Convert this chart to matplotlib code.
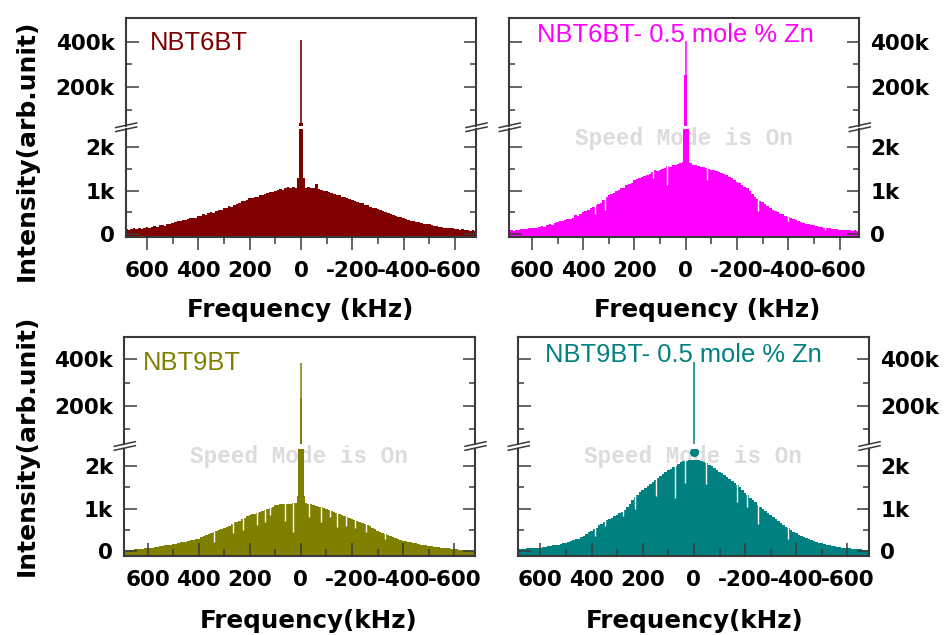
import numpy as np
import matplotlib
matplotlib.use("Agg")
import matplotlib.pyplot as plt
from matplotlib.lines import Line2D

# ---------------- data ----------------
freq_khz = np.arange(690, -691, -10)  # sampling grid of the spectra (kHz), +690 ... -690

# broad spectra, intensity in k (thousands of counts)
nbt6bt_k = [
    0.10, 0.12, 0.09, 0.12, 0.13, 0.11, 0.14, 0.12, 0.15, 0.16,
    0.14, 0.17, 0.18, 0.16, 0.20, 0.21, 0.19, 0.24, 0.22, 0.26,
    0.27, 0.30, 0.29, 0.33, 0.32, 0.35, 0.36, 0.38, 0.37, 0.41,
    0.42, 0.45, 0.44, 0.48, 0.50, 0.49, 0.53, 0.55, 0.56, 0.59,
    0.61, 0.64, 0.63, 0.68, 0.70, 0.71, 0.75, 0.77, 0.78, 0.82,
    0.83, 0.86, 0.85, 0.90, 0.91, 0.92, 0.95, 0.97, 0.96, 1.00,
    1.01, 1.04, 1.02, 1.05, 1.08, 1.06, 1.09, 1.07, 1.12, 1.10,
    1.11, 1.07, 1.09, 1.06, 1.05, 1.15, 1.03, 1.02, 0.99, 0.98,
    0.96, 0.95, 0.93, 0.90, 0.89, 0.86, 0.85, 0.82, 0.80, 0.78,
    0.77, 0.74, 0.72, 0.71, 0.67, 0.66, 0.63, 0.61, 0.59, 0.57,
    0.55, 0.53, 0.51, 0.48, 0.47, 0.44, 0.42, 0.40, 0.39, 0.36,
    0.35, 0.33, 0.31, 0.30, 0.28, 0.27, 0.25, 0.24, 0.23, 0.22,
    0.21, 0.19, 0.19, 0.17, 0.17, 0.15, 0.15, 0.13, 0.13, 0.12,
    0.12, 0.10, 0.11, 0.09, 0.10, 0.08, 0.09, 0.07, 0.08,
]
nbt6bt_zn_k = [
    0.08, 0.09, 0.08, 0.10, 0.09, 0.11, 0.12, 0.11, 0.13, 0.14,
    0.15, 0.14, 0.17, 0.18, 0.17, 0.20, 0.22, 0.21, 0.25, 0.28,
    0.30, 0.29, 0.33, 0.35, 0.34, 0.38, 0.43, 0.42, 0.46, 0.51,
    0.53, 0.55, 0.59, 0.62, 0.67, 0.70, 0.72, 0.78, 0.86, 0.90,
    0.92, 0.95, 0.98, 1.01, 1.05, 1.07, 1.12, 1.15, 1.18, 1.25,
    1.26, 1.28, 1.31, 1.34, 1.36, 1.38, 1.42, 1.47, 1.46, 1.48,
    1.50, 1.53, 1.56, 1.55, 1.60, 1.58, 1.62, 1.64, 1.65, 1.67,
    1.66, 1.63, 1.60, 1.58, 1.57, 1.55, 1.54, 1.52, 1.50, 1.48,
    1.47, 1.46, 1.44, 1.40, 1.39, 1.35, 1.31, 1.28, 1.25, 1.21,
    1.17, 1.14, 1.09, 1.05, 0.98, 0.93, 0.86, 0.80, 0.77, 0.74,
    0.70, 0.65, 0.59, 0.56, 0.53, 0.50, 0.47, 0.45, 0.42, 0.40,
    0.37, 0.35, 0.32, 0.30, 0.28, 0.26, 0.24, 0.23, 0.21, 0.20,
    0.19, 0.17, 0.16, 0.15, 0.14, 0.13, 0.12, 0.12, 0.11, 0.10,
    0.10, 0.09, 0.09, 0.09, 0.08, 0.09, 0.08, 0.08, 0.07,
]
nbt9bt_k = [
    0.03, 0.03, 0.04, 0.04, 0.05, 0.05, 0.06, 0.06, 0.07, 0.07,
    0.08, 0.09, 0.10, 0.10, 0.12, 0.13, 0.14, 0.15, 0.16, 0.17,
    0.18, 0.19, 0.21, 0.22, 0.23, 0.25, 0.26, 0.27, 0.29, 0.30,
    0.33, 0.35, 0.38, 0.41, 0.44, 0.46, 0.48, 0.50, 0.52, 0.54,
    0.57, 0.60, 0.64, 0.68, 0.70, 0.72, 0.76, 0.79, 0.82, 0.85,
    0.87, 0.88, 0.90, 0.93, 0.95, 0.97, 0.99, 1.02, 1.05, 1.09,
    1.09, 1.10, 1.10, 1.11, 1.12, 1.12, 1.13, 1.14, 1.15, 1.16,
    1.15, 1.13, 1.11, 1.10, 1.08, 1.07, 1.05, 1.04, 1.01, 0.99,
    0.97, 0.95, 0.93, 0.91, 0.88, 0.86, 0.83, 0.80, 0.78, 0.75,
    0.73, 0.71, 0.69, 0.67, 0.65, 0.62, 0.59, 0.56, 0.52, 0.48,
    0.46, 0.43, 0.41, 0.39, 0.36, 0.34, 0.32, 0.30, 0.27, 0.25,
    0.24, 0.23, 0.21, 0.20, 0.19, 0.17, 0.16, 0.15, 0.14, 0.13,
    0.12, 0.11, 0.10, 0.10, 0.09, 0.08, 0.07, 0.07, 0.06, 0.05,
    0.05, 0.04, 0.04, 0.03, 0.03, 0.03, 0.02, 0.02, 0.02,
]
nbt9bt_zn_k = [
    0.05, 0.06, 0.06, 0.06, 0.07, 0.07, 0.08, 0.08, 0.08, 0.09,
    0.10, 0.11, 0.12, 0.13, 0.14, 0.15, 0.16, 0.17, 0.19, 0.20,
    0.22, 0.24, 0.26, 0.28, 0.30, 0.33, 0.37, 0.41, 0.45, 0.48,
    0.52, 0.56, 0.61, 0.65, 0.70, 0.73, 0.76, 0.79, 0.82, 0.85,
    0.89, 0.93, 0.98, 1.05, 1.12, 1.20, 1.27, 1.33, 1.39, 1.44,
    1.48, 1.53, 1.58, 1.63, 1.67, 1.72, 1.77, 1.81, 1.86, 1.90,
    1.94, 1.98, 2.01, 2.05, 2.10, 2.11, 2.12, 2.13, 2.14, 2.14,
    2.14, 2.13, 2.12, 2.10, 2.06, 2.03, 1.99, 1.96, 1.91, 1.87,
    1.83, 1.79, 1.74, 1.70, 1.65, 1.60, 1.55, 1.50, 1.43, 1.36,
    1.31, 1.26, 1.20, 1.15, 1.09, 1.04, 0.99, 0.94, 0.89, 0.85,
    0.80, 0.76, 0.71, 0.67, 0.62, 0.58, 0.54, 0.50, 0.46, 0.42,
    0.39, 0.36, 0.33, 0.31, 0.28, 0.26, 0.24, 0.22, 0.20, 0.19,
    0.17, 0.16, 0.15, 0.13, 0.12, 0.11, 0.10, 0.09, 0.08, 0.07,
    0.07, 0.06, 0.06, 0.05, 0.05, 0.04, 0.04, 0.03, 0.03,
]

# central narrow line: half widths (kHz) and heights (counts) of its steps, and its top
nbt6bt_spike_hw = [15, 8, 6]
nbt6bt_spike_h = [1300, 2700, 43000]
nbt6bt_peak = 407000
nbt6bt_zn_spike_hw = [11, 5]
nbt6bt_zn_spike_h = [3000, 252000]
nbt6bt_zn_peak = 404000
nbt9bt_spike_hw = [15, 11, 4]
nbt9bt_spike_h = [1300, 3000, 236000]
nbt9bt_peak = 386000
nbt9bt_zn_spike_hw = []
nbt9bt_zn_spike_h = []
nbt9bt_zn_peak = 390000
nbt9bt_zn_dot = 2330

# narrow dips in the spectra (white gaps): frequency (kHz) and floor (k)
nbt6bt_gap_f = []
nbt6bt_gap_floor = []
nbt6bt_zn_gap_f = [353, 314, 126, 74, -82, -283, -400, -545]
nbt6bt_zn_gap_floor = [0.47, 0.56, 1.30, 1.13, 1.25, 0.52, 0.30, 0.10]
nbt9bt_gap_f = [342, 264, 225, 173, 140, 121, 62, 30, -32, -80, -113, -141, -178, -210, -256, -330]
nbt9bt_gap_floor = [0.22, 0.42, 0.50, 0.62, 0.70, 0.85, 0.72, 0.46, 0.81, 0.70, 0.80, 0.58, 0.60, 0.55, 0.45, 0.30]
nbt9bt_zn_gap_f = [386, 348, 276, 230, 150, 72, 33, -47, -167, -206, -251, -368]
nbt9bt_zn_gap_floor = [0.35, 0.60, 0.82, 1.00, 1.30, 1.25, 1.60, 1.58, 1.16, 1.05, 0.65, 0.30]

titles = ["NBT6BT", "NBT6BT- 0.5 mole % Zn", "NBT9BT", "NBT9BT- 0.5 mole % Zn"]
x_ticks = [600, 400, 200, 0, -200, -400, -600]
x_tick_labels = ["600", "400", "200", "0", "-200", "-400", "-600"]
x_minor = [500, 300, 100, -100, -300, -500]
up_ticks = [200000, 400000]
up_tick_labels = ["200k", "400k"]
up_minor = [100000, 300000]
lo_ticks = [0, 1000, 2000]
lo_tick_labels = ["0", "1k", "2k"]
lo_minor = [500, 1500]
x_labels = ["Frequency (kHz)", "Frequency (kHz)", "Frequency(kHz)", "Frequency(kHz)"]
y_label = "Intensity(arb.unit)"
watermark = "Speed Mode is On"

# ---------------- figure ----------------
W, H = 944, 635
plt.rcParams["font.family"] = ["DejaVu Sans"]
plt.rcParams["font.weight"] = "bold"
fig = plt.figure(figsize=(W / 100, H / 100), dpi=100)
fig.patch.set_facecolor("white")


def fx(px):
    return px / W


def fy(py):
    return 1 - py / H


rows = {
    "top": dict(top=18.3, brk_hi=125.5, brk_lo=129.0, bottom=236.7,
                up_lim=(31000, 503000), lo_lim=(-62, 2420), xdir="out", xpad=8.0),
    "bot": dict(top=336.7, brk_hi=443.5, brk_lo=448.5, bottom=555.7,
                up_lim=(40000, 496600), lo_lim=(-100, 2410), xdir="in", xpad=10.5),
}

panels = [
    dict(spec=nbt6bt_k, shw=nbt6bt_spike_hw, sh=nbt6bt_spike_h, peak=nbt6bt_peak, dot=None,
         gf=nbt6bt_gap_f, gfl=nbt6bt_gap_floor, color="#800000", row="top",
         x0=125.7, x1=476.0, xlim=(683, -682), side="left", title_xy=(150, 50),
         wm=None, xlab_xy=(300.5, 310), peak_lw=1.2),
    dict(spec=nbt6bt_zn_k, shw=nbt6bt_zn_spike_hw, sh=nbt6bt_zn_spike_h, peak=nbt6bt_zn_peak, dot=None,
         gf=nbt6bt_zn_gap_f, gfl=nbt6bt_zn_gap_floor, color="#ff00ff", row="top",
         x0=509.3, x1=859.3, xlim=(688, -677), side="right", title_xy=(536.7, 41.7),
         wm=(684, 138), xlab_xy=(706.7, 310), peak_lw=1.1),
    dict(spec=nbt9bt_k, shw=nbt9bt_spike_hw, sh=nbt9bt_spike_h, peak=nbt9bt_peak, dot=None,
         gf=nbt9bt_gap_f, gfl=nbt9bt_gap_floor, color="#808000", row="bot",
         x0=124.3, x1=475.0, xlim=(691, -681), side="left", title_xy=(143, 370),
         wm=(299, 457), xlab_xy=(309, 621), peak_lw=1.1),
    dict(spec=nbt9bt_zn_k, shw=nbt9bt_zn_spike_hw, sh=nbt9bt_zn_spike_h, peak=nbt9bt_zn_peak,
         dot=nbt9bt_zn_dot, gf=nbt9bt_zn_gap_f, gfl=nbt9bt_zn_gap_floor, color="#008080", row="bot",
         x0=518.3, x1=869.0, xlim=(686, -684), side="right", title_xy=(545, 361.7),
         wm=(693.4, 456.7), xlab_xy=(695, 621), peak_lw=1.1),
]

spine_col = "#3a3a3a"
tick_fs = 15.5

for i, p in enumerate(panels):
    r = rows[p["row"]]
    w = fx(p["x1"]) - fx(p["x0"])
    ax_up = fig.add_axes([fx(p["x0"]), fy(r["brk_hi"]), w, (r["brk_hi"] - r["top"]) / H])
    ax_lo = fig.add_axes([fx(p["x0"]), fy(r["bottom"]), w, (r["bottom"] - r["brk_lo"]) / H])

    spec = np.array(p["spec"]) * 1000.0
    col = p["color"]

    for ax, lim in ((ax_up, r["up_lim"]), (ax_lo, r["lo_lim"])):
        ax.set_xlim(*p["xlim"])
        ax.set_ylim(*lim)
        ax.set_facecolor("none")
        # broad spectrum
        ax.fill_between(freq_khz, spec, -500, step="mid", color=col, lw=0, zorder=1)
        # central narrow line
        for hw, h in zip(p["shw"], p["sh"]):
            ax.bar(0, h + 500, width=2 * hw, bottom=-500, color=col, lw=0, zorder=1.05)
        base = p["dot"] if p["dot"] is not None else 0
        ax.vlines(0, base, p["peak"], color=col, lw=p["peak_lw"], zorder=1.05)

    # white dips
    if len(p["gf"]):
        tops = []
        for f in p["gf"]:
            idx = int(round((690 - f) / 10))
            tops.append(max(spec[max(idx - 1, 0):idx + 2]) + 40)
        ax_lo.vlines(p["gf"], np.array(p["gfl"]) * 1000.0, tops, color="white", lw=1.0, zorder=1.1)
    if p["dot"] is not None:
        ax_lo.plot([0], [p["dot"]], "o", color=col, ms=5.5, mec=col, zorder=1.1)

    # spines
    for ax in (ax_up, ax_lo):
        for s in ax.spines.values():
            s.set_color(spine_col)
            s.set_linewidth(1.5)
    ax_up.spines["bottom"].set_visible(False)
    ax_lo.spines["top"].set_visible(False)

    # ticks
    for ax, tks, labs, mn in ((ax_up, up_ticks, up_tick_labels, up_minor),
                              (ax_lo, lo_ticks, lo_tick_labels, lo_minor)):
        ax.set_yticks(tks)
        ax.set_yticklabels(labs)
        ax.set_yticks(mn, minor=True)
        ax.tick_params(axis="y", which="both", direction="in", left=True, right=True,
                       labelleft=(p["side"] == "left"), labelright=(p["side"] == "right"),
                       color=spine_col, width=1.1, labelsize=tick_fs, pad=8.0)
        ax.tick_params(axis="y", which="major", length=9)
        ax.tick_params(axis="y", which="minor", length=4)
    ax_up.tick_params(axis="x", which="both", bottom=False, top=False, labelbottom=False)
    ax_lo.set_xticks(x_ticks)
    ax_lo.set_xticklabels(x_tick_labels)
    ax_lo.set_xticks(x_minor, minor=True)
    ax_lo.tick_params(axis="x", which="both", direction=r["xdir"], top=False, bottom=True,
                      color=spine_col, width=1.1, labelsize=tick_fs, pad=r["xpad"])
    ax_lo.tick_params(axis="x", which="major", length=9.5)
    ax_lo.tick_params(axis="x", which="minor", length=5)

    # break marks
    yb = (r["brk_hi"] + r["brk_lo"]) / 2
    for xs in (p["x0"], p["x1"]):
        for dy in (0.3, 4.3):
            fig.add_artist(Line2D([fx(xs - 10), fx(xs + 11)], [fy(yb + dy), fy(yb + dy - 4.6)],
                                  color=spine_col, lw=1.1, transform=fig.transFigure))

    # title inside panel
    fig.text(fx(p["title_xy"][0]), fy(p["title_xy"][1]), titles[i], color=col,
             fontsize=18.4, fontweight="normal", family=["Liberation Sans", "DejaVu Sans"],
             ha="left", va="baseline")

    # watermark
    if p["wm"] is not None:
        ax_lo.text(fx(p["wm"][0]), fy(p["wm"][1]), watermark, transform=fig.transFigure,
                   ha="center", va="center", color="#dcdcdc", fontsize=16.3,
                   family=["Liberation Mono", "DejaVu Sans Mono"], fontweight="bold", zorder=0.5)

    # x label
    fig.text(fx(p["xlab_xy"][0]), fy(p["xlab_xy"][1]), x_labels[i], ha="center", va="center",
             fontsize=17.7, fontweight="bold")

# y labels
for yc in (150, 445):
    fig.text(fx(27), fy(yc), y_label, rotation=90, ha="center", va="center",
             fontsize=18, fontweight="bold")

fig.savefig("out.png", dpi=100, facecolor="white")
